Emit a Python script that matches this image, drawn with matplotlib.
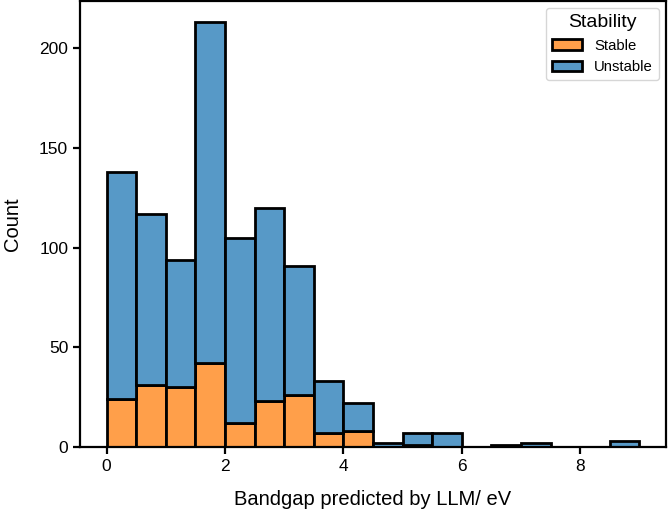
import matplotlib
matplotlib.use("Agg")
import matplotlib.pyplot as plt
import numpy as np

# bin edges (eV) and counts per bin
bin_edges = np.arange(0, 9.5, 0.5)
stable = [24, 31, 30, 42, 12, 23, 26, 7, 8, 0, 1, 0, 0, 0, 0, 0, 0, 0]
unstable = [114, 86, 64, 171, 93, 97, 65, 26, 14, 2, 6, 7, 0, 1, 2, 0, 0, 3]

plt.rcParams['font.family'] = ['Liberation Sans', 'DejaVu Sans']

fig = plt.figure(figsize=(6.68, 5.15), dpi=100)
ax = fig.add_axes([80 / 668, 68 / 515, 586 / 668, 446 / 515])

left = bin_edges[:-1]
width = np.diff(bin_edges)
stable = np.array(stable)
unstable = np.array(unstable)

c_stable = '#ff9f4a'
c_unstable = '#5799c7'

ax.bar(left, stable, width=width, align='edge', color=c_stable,
       edgecolor='black', linewidth=2.0, label='Stable')
ax.bar(left, unstable, width=width, bottom=stable, align='edge',
       color=c_unstable, edgecolor='black', linewidth=2.0, label='Unstable')

ax.set_xlim(-0.45, 9.45)
ax.set_ylim(0, (stable + unstable).max() * 1.05)
ax.set_xticks([0, 2, 4, 6, 8])
ax.set_yticks([0, 50, 100, 150, 200])

for s in ax.spines.values():
    s.set_linewidth(1.6)
ax.tick_params(width=1.6, length=5, labelsize=12.5)

ax.set_xlabel('Bandgap predicted by LLM/ eV', fontsize=14.5, labelpad=12)
ax.set_ylabel('Count', fontsize=14.5, labelpad=12)

leg = ax.legend(title='Stability', loc='upper right', fontsize=10.7,
                title_fontsize=14, frameon=True)
leg.get_frame().set_edgecolor('#cccccc')

plt.savefig('out.png', dpi=100)
